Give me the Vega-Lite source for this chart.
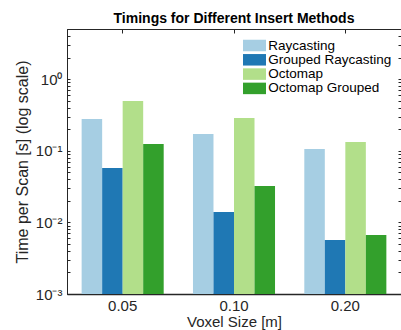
{
  "$schema": "https://vega.github.io/schema/vega-lite/v6.json",
  "width": 334,
  "height": 265,
  "autosize": {"type": "none"},
  "padding": {"left": 67, "top": 29, "right": 0, "bottom": 36},
  "background": "white",
  "title": {
    "text": "Timings for Different Insert Methods",
    "fontSize": 14,
    "fontWeight": "bold",
    "font": "Liberation Sans",
    "color": "#000000",
    "anchor": "middle",
    "frame": "group",
    "offset": -8,
    "baseline": "alphabetic"
  },
  "data": {
    "values": [
      {"voxel": "0.05", "method": "Raycasting", "time": 0.277},
      {"voxel": "0.05", "method": "Grouped Raycasting", "time": 0.0574},
      {"voxel": "0.05", "method": "Octomap", "time": 0.494},
      {"voxel": "0.05", "method": "Octomap Grouped", "time": 0.124},
      {"voxel": "0.10", "method": "Raycasting", "time": 0.171},
      {"voxel": "0.10", "method": "Grouped Raycasting", "time": 0.01397},
      {"voxel": "0.10", "method": "Octomap", "time": 0.286},
      {"voxel": "0.10", "method": "Octomap Grouped", "time": 0.0322},
      {"voxel": "0.20", "method": "Raycasting", "time": 0.1057},
      {"voxel": "0.20", "method": "Grouped Raycasting", "time": 0.00568},
      {"voxel": "0.20", "method": "Octomap", "time": 0.1325},
      {"voxel": "0.20", "method": "Octomap Grouped", "time": 0.00667}
    ]
  },
  "config": {
    "font": "Liberation Sans",
    "view": {"stroke": "#262626", "strokeWidth": 1},
    "axis": {
      "labelFont": "Liberation Sans",
      "titleFont": "Liberation Sans",
      "labelColor": "#262626",
      "titleColor": "#262626",
      "tickColor": "#262626",
      "domainColor": "#262626",
      "grid": false,
      "titleFontWeight": "normal"
    }
  },
  "resolve": {"axis": {"x": "independent", "y": "independent"}},
  "layer": [
    {
      "mark": {"type": "bar", "opacity": 0},
      "encoding": {
        "x": {
          "field": "voxel",
          "type": "nominal",
          "sort": null,
          "scale": {"paddingInner": 0.263, "paddingOuter": 0.1315},
          "axis": {"orient": "top", "labels": false, "title": null, "domain": false, "tickSize": -4, "tickWidth": 1}
        },
        "y": {
          "field": "time",
          "type": "quantitative",
          "scale": {"type": "log", "domain": [0.001, 5], "nice": false},
          "axis": {
            "orient": "right",
            "labels": false,
            "title": null,
            "domain": false,
            "tickSize": -3,
            "values": [0.001, 0.002, 0.003, 0.004, 0.005, 0.006, 0.007, 0.008, 0.009, 0.01, 0.02, 0.03, 0.04, 0.05, 0.06, 0.07, 0.08, 0.09, 0.1, 0.2, 0.3, 0.4, 0.5, 0.6, 0.7, 0.8, 0.9, 1, 2, 3, 4, 5]
          }
        }
      }
    },
    {
      "mark": {"type": "bar"},
      "encoding": {
        "x": {
          "field": "voxel",
          "type": "nominal",
          "sort": null,
          "axis": {
            "orient": "bottom",
            "title": "Voxel Size [m]",
            "titleFontSize": 15,
            "labelFontSize": 15,
            "labelAngle": 0,
            "ticks": false,
            "labelPadding": 4,
            "titlePadding": 1,
            "domain": true,
            "domainWidth": 1.5
          }
        },
        "xOffset": {
          "field": "method",
          "type": "nominal",
          "sort": ["Raycasting", "Grouped Raycasting", "Octomap", "Octomap Grouped"],
          "scale": {"paddingInner": 0, "paddingOuter": 0}
        },
        "y": {
          "field": "time",
          "type": "quantitative",
          "axis": {
            "orient": "left",
            "title": "Time per Scan [s] (log scale)",
            "titleFontSize": 16,
            "labelFontSize": 15,
            "tickSize": -3,
            "labelPadding": 8,
            "titlePadding": 5,
            "domain": true,
            "values": [0.001, 0.002, 0.003, 0.004, 0.005, 0.006, 0.007, 0.008, 0.009, 0.01, 0.02, 0.03, 0.04, 0.05, 0.06, 0.07, 0.08, 0.09, 0.1, 0.2, 0.3, 0.4, 0.5, 0.6, 0.7, 0.8, 0.9, 1, 2, 3, 4, 5],
            "labelExpr": "datum.value == 1 ? '10⁰' : datum.value == 0.1 ? '10⁻¹' : datum.value == 0.01 ? '10⁻²' : datum.value == 0.001 ? '10⁻³' : ''"
          }
        },
        "y2": {"datum": 0.001},
        "color": {
          "field": "method",
          "type": "nominal",
          "scale": {
            "domain": ["Raycasting", "Grouped Raycasting", "Octomap", "Octomap Grouped"],
            "range": ["#a6cee3", "#1f78b4", "#b2df8a", "#33a02c"]
          },
          "legend": {
            "title": null,
            "orient": "top-right",
            "offset": 9,
            "padding": 0,
            "symbolType": "M-1.6,-0.8H1.6V0.8H-1.6Z",
            "symbolSize": 207,
            "symbolStrokeWidth": 0,
            "symbolOpacity": 1,
            "labelFontSize": 13.5,
            "labelFont": "Liberation Sans",
            "labelColor": "#000000",
            "labelOffset": 6.3,
            "rowPadding": 0.3
          }
        }
      }
    }
  ]
}
